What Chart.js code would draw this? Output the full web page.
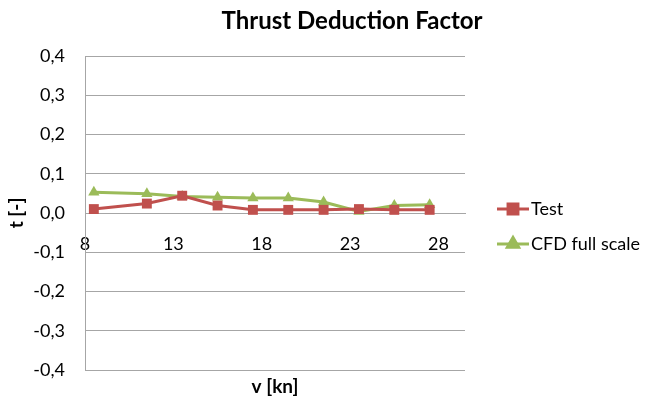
<!DOCTYPE html>
<html>
<head>
<meta charset="utf-8">
<script src="https://cdn.jsdelivr.net/npm/chart.js@4.4.1/dist/chart.umd.min.js"></script>
<style>
html,body{margin:0;padding:0;background:#fff;}
#wrap{width:645px;height:403px;position:relative;}
</style>
</head>
<body>
<div id="wrap"><canvas id="c" width="645" height="403"></canvas></div>
<script>
const chartTitle = "Thrust Deduction Factor";
const xTitle = "v [kn]";
const yTitle = "t [-]";
const speeds = [8.5, 11.5, 13.5, 15.5, 17.5, 19.5, 21.5, 23.5, 25.5, 27.5];
const testValues = [0.010, 0.024, 0.044, 0.019, 0.008, 0.008, 0.008, 0.010, 0.008, 0.008];
const cfdValues = [0.053, 0.049, 0.042, 0.040, 0.038, 0.038, 0.028, 0.004, 0.019, 0.021];
const seriesNames = ["Test", "CFD full scale"];
const xTickValues = [8, 13, 18, 23, 28];
const yTickValues = [-0.4, -0.3, -0.2, -0.1, 0, 0.1, 0.2, 0.3, 0.4];

const RED = "#C0504D", GREEN = "#9BBB59", GRID = "#A6A6A6";
const FONT = "Lato";

function pts(xs, ys){ return xs.map((x,i)=>({x:x, y:ys[i]})); }

const extras = {
  id: 'extras',
  afterDraw(chart){
    const ctx = chart.ctx, ca = chart.chartArea;
    ctx.save();
    ctx.fillStyle = '#000';
    ctx.textBaseline = 'middle';
    ctx.textAlign = 'center';
    ctx.font = 'bold 24px ' + FONT;
    ctx.fillText(chartTitle, 352, 21);
    ctx.font = 'bold 19px ' + FONT;
    ctx.fillText(xTitle, (ca.left + ca.right)/2, 387);
    // legend
    const ys = [209, 244];
    chart.data.datasets.forEach((ds, i) => {
      const y = ys[i];
      ctx.strokeStyle = ds.borderColor;
      ctx.lineWidth = ds.borderWidth;
      ctx.beginPath(); ctx.moveTo(497, y); ctx.lineTo(529, y); ctx.stroke();
      Chart.helpers.drawPoint(ctx, {pointStyle: ds.pointStyle, radius: ds.pointRadius, borderWidth: 1}, 513, y);
      ctx.fillStyle = ds.backgroundColor;
      ctx.fill();
      ctx.fillStyle = '#000';
      ctx.textAlign = 'left';
      ctx.font = '18px ' + FONT;
      ctx.fillText(ds.label, 531, y);
    });
    ctx.restore();
  }
};

new Chart(document.getElementById('c'), {
  type: 'scatter',
  data: {
    datasets: [
      { label: seriesNames[0], data: pts(speeds, testValues), showLine: true,
        borderColor: RED, backgroundColor: RED, borderWidth: 3, pointStyle: 'rect',
        pointRadius: 7, pointHoverRadius: 7, pointBorderWidth: 0, tension: 0 },
      { label: seriesNames[1], data: pts(speeds, cfdValues), showLine: true,
        borderColor: GREEN, backgroundColor: GREEN, borderWidth: 3, pointStyle: 'triangle',
        pointRadius: 6.5, pointHoverRadius: 6.5, pointBorderWidth: 0, tension: 0 }
    ]
  },
  options: {
    responsive: false,
    animation: false,
    layout: { padding: { left: 0, right: 180, top: 56, bottom: 33 } },
    plugins: { legend: { display: false }, title: { display: false }, tooltip: { enabled: false } },
    scales: {
      x: {
        type: 'linear', min: 8, max: 29.5,
        position: { y: 0 },
        afterFit: s => { s.height = 0; },
        afterBuildTicks: s => { s.ticks = xTickValues.map(v => ({value: v})); },
        grid: { display: false, drawTicks: false },
        border: { display: true, color: GRID, width: 1 },
        ticks: { padding: 20, color: '#000', font: { family: FONT, size: 18 }, maxRotation: 0, autoSkip: false,
                 callback: v => String(v) }
      },
      y: {
        min: -0.4, max: 0.4,
        afterFit: s => { s.width = 85; },
        afterBuildTicks: s => { s.ticks = yTickValues.map(v => ({value: v})); },
        grid: { color: GRID, drawTicks: false, lineWidth: 1 },
        border: { display: true, color: GRID, width: 1 },
        ticks: { padding: 20, color: '#000', font: { family: FONT, size: 18 },
                 callback: v => (Math.abs(v) < 1e-9 ? 0 : v).toFixed(1).replace('.', ',') },
        title: { display: true, text: yTitle, color: '#000', font: { family: FONT, size: 19, weight: 'bold' },
                 padding: { top: 5, bottom: 0 } }
      }
    }
  },
  plugins: [extras]
});
</script>
</body>
</html>
